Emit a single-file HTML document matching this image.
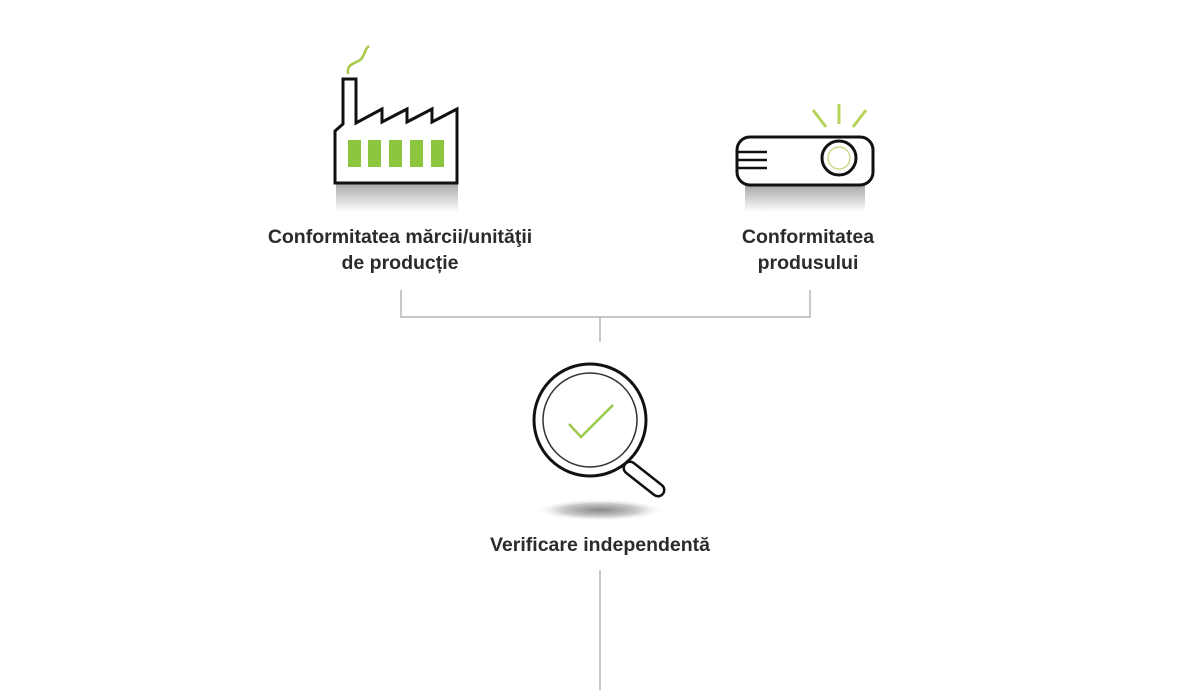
<!DOCTYPE html>
<html><head><meta charset="utf-8"><style>
body{margin:0;background:#fff;width:1200px;height:700px;overflow:hidden;position:relative;font-family:"Liberation Sans",Arial,sans-serif}
.t{position:absolute;font-weight:bold;font-size:19.5px;color:#2b2b2b;text-align:center;line-height:26px}
</style></head><body>
<svg width="1200" height="700" style="position:absolute;left:0;top:0">
<defs>
<linearGradient id="sh" x1="0" y1="0" x2="0" y2="1"><stop offset="0" stop-color="#aaa"/><stop offset="1" stop-color="#fff"/></linearGradient>
<radialGradient id="el"><stop offset="0" stop-color="#888"/><stop offset="0.6" stop-color="#ccc"/><stop offset="1" stop-color="#fff" stop-opacity="0"/></radialGradient>
</defs>
<rect x="336" y="184" width="122" height="28" fill="url(#sh)"/>
<path d="M348 74 C346 62 358 64 362 58 C366 52 364 50 369 46" fill="none" stroke="#a8c94a" stroke-width="2.5"/>
<path d="M335 183 L335 131 L343 124 L343 79 L356 79 L356 123 L382 109 L382 122 L407 109 L407 122 L432 109 L432 122 L457 109 L457 183 Z" fill="#fff" stroke="#111" stroke-width="3" stroke-linejoin="miter"/>
<g fill="#8cc63f"><rect x="348" y="140" width="13" height="27"/><rect x="368" y="140" width="13" height="27"/><rect x="389" y="140" width="13" height="27"/><rect x="410" y="140" width="13" height="27"/><rect x="431" y="140" width="13" height="27"/></g>
<rect x="745" y="186" width="120" height="26" fill="url(#sh)"/>
<g stroke="#b5d45a" stroke-width="3"><line x1="813" y1="110" x2="826" y2="127"/><line x1="839" y1="104" x2="839" y2="124"/><line x1="866" y1="110" x2="853" y2="127"/></g>
<rect x="737" y="137" width="136" height="48" rx="13" fill="#fff" stroke="#111" stroke-width="3"/>
<g stroke="#111" stroke-width="2.5"><line x1="737" y1="152" x2="767" y2="152"/><line x1="737" y1="160" x2="767" y2="160"/><line x1="737" y1="168" x2="767" y2="168"/></g>
<circle cx="839" cy="158" r="17" fill="#fff" stroke="#111" stroke-width="3"/>
<circle cx="839" cy="158" r="11" fill="#fff" stroke="#c9dc8a" stroke-width="1.5"/>
<g stroke="#c8c8c8" stroke-width="2" fill="none"><path d="M401 290 V317 H810 V290"/><line x1="600" y1="317" x2="600" y2="342"/><line x1="600" y1="570" x2="600" y2="690"/></g>
<ellipse cx="600" cy="510" rx="65" ry="11" fill="url(#el)"/>
<line x1="630" y1="468" x2="658" y2="490" stroke="#111" stroke-width="15" stroke-linecap="round"/>
<line x1="630" y1="468" x2="658" y2="490" stroke="#fff" stroke-width="10" stroke-linecap="round"/>
<circle cx="590" cy="420" r="56" fill="#fff" stroke="#111" stroke-width="3"/>
<circle cx="590" cy="420" r="47" fill="#fff" stroke="#333" stroke-width="1.5"/>
<path d="M569 424 L581 437 L613 405" fill="none" stroke="#9cc84a" stroke-width="2.5"/>
</svg>
<div class="t" style="left:230px;top:224px;width:340px">Conformitatea mărcii/unităţii<br>de producție</div>
<div class="t" style="left:708px;top:224px;width:200px">Conformitatea<br>produsului</div>
<div class="t" style="left:450px;top:532px;width:300px">Verificare independentă</div>
</body></html>
